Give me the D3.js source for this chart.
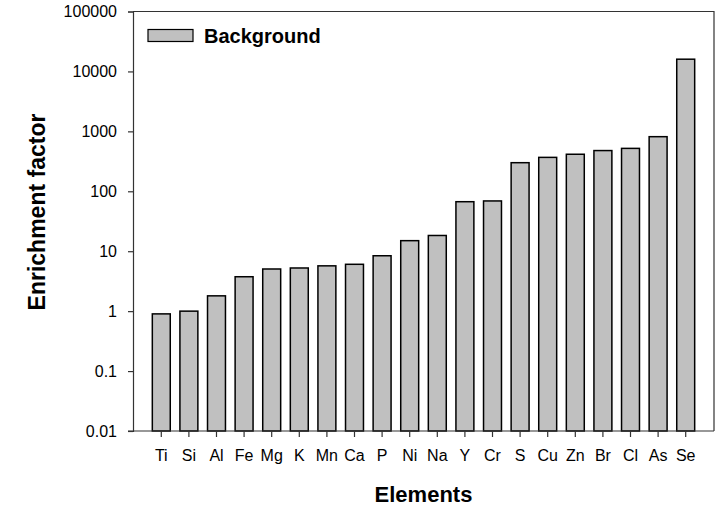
<!DOCTYPE html>
<html>
<head>
<meta charset="utf-8">
<script src="https://cdn.jsdelivr.net/npm/d3@7"></script>
<style>
  body { margin: 0; background: #fff; }
  svg { display: block; font-family: "Liberation Sans", Arial, sans-serif; }
</style>
</head>
<body>
<svg id="chart" width="720" height="510"></svg>
<script>
const elements = ["Ti","Si","Al","Fe","Mg","K","Mn","Ca","P","Ni","Na","Y","Cr","S","Cu","Zn","Br","Cl","As","Se"];
const background = [0.90, 1.0, 1.8, 3.75, 5.05, 5.25, 5.7, 6.05, 8.4, 15, 18.3, 67, 69, 300, 368, 415, 478, 520, 815, 16000];
const yTicks = [0.01, 0.1, 1, 10, 100, 1000, 10000, 100000];
const yTickLabels = ["0.01", "0.1", "1", "10", "100", "1000", "10000", "100000"];
const seriesName = "Background";

const L = 133, R = 714, T = 11.5, B = 431;
const svg = d3.select("#chart");

const x = d3.scaleBand().domain(elements).range([L, R]).paddingInner(0.35).paddingOuter(0.7);
const y = d3.scaleLog().domain([0.01, 100000]).range([B, T]);

// bars
svg.append("g").selectAll("rect").data(elements).join("rect")
  .attr("x", d => x(d))
  .attr("width", x.bandwidth())
  .attr("y", (d, i) => y(background[i]))
  .attr("height", (d, i) => B - y(background[i]))
  .attr("fill", "#c0c0c0")
  .attr("stroke", "#000")
  .attr("stroke-width", 1.5);

// frame
svg.append("path")
  .attr("d", `M${L},${T}H${R}V${B}`)
  .attr("fill", "none").attr("stroke", "#333").attr("stroke-width", 1.2);

// y axis
const yAxis = d3.axisLeft(y).tickValues(yTicks).tickFormat((d, i) => yTickLabels[i]).tickSize(5).tickPadding(11);
const gy = svg.append("g").attr("transform", `translate(${L},0)`).call(yAxis);
gy.select(".domain").attr("stroke", "#333").attr("stroke-width", 1.2);
gy.selectAll(".tick line").attr("stroke", "#333").attr("stroke-width", 1.2);
gy.selectAll("text").attr("font-size", 16).attr("fill", "#000").attr("font-family", "Liberation Sans, Arial, sans-serif");

// x axis
const xAxis = d3.axisBottom(x).tickSize(6).tickPadding(13);
const gx = svg.append("g").attr("transform", `translate(0,${B})`).call(xAxis);
gx.select(".domain").attr("d", `M${L - 5},0H${R}`).attr("stroke", "#333").attr("stroke-width", 1.2);
gx.selectAll(".tick line").attr("stroke", "#333").attr("stroke-width", 1.2);
gx.selectAll("text").attr("font-size", 16).attr("fill", "#000").attr("font-family", "Liberation Sans, Arial, sans-serif");

// axis titles
svg.append("text")
  .attr("x", (L + R) / 2).attr("y", 502)
  .attr("text-anchor", "middle")
  .attr("font-size", 22).attr("font-weight", "bold")
  .text("Elements");

svg.append("text")
  .attr("transform", `translate(45,212) rotate(-90)`)
  .attr("text-anchor", "middle")
  .attr("font-size", 23).attr("font-weight", "bold")
  .text("Enrichment factor");

// legend
const lg = svg.append("g");
lg.append("rect").attr("x", 148).attr("y", 29.5).attr("width", 45).attr("height", 12)
  .attr("fill", "#c0c0c0").attr("stroke", "#000").attr("stroke-width", 1.2);
lg.append("text").attr("x", 204).attr("y", 43)
  .attr("font-size", 20).attr("font-weight", "bold")
  .text(seriesName);
</script>
</body>
</html>
